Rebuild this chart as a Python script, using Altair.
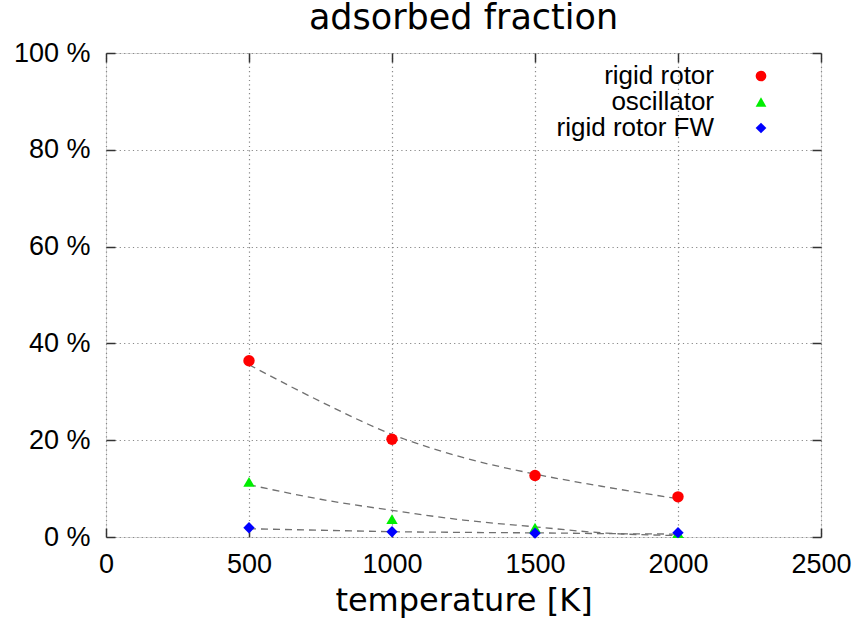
import altair as alt
import pandas as pd

# measured points (percent)
temps = [500, 1000, 1500, 2000]
rigid_rotor = [36.4, 20.2, 12.7, 8.3]
oscillator = [11.4, 3.7, 1.9, 0.8]
rigid_rotor_fw = [1.9, 1.1, 0.8, 0.9]

# dashed fit curves (percent)
fit_temps = [500, 750, 1000, 1250, 1500, 1750, 2000]
fit_rigid_rotor = [35.6, 28.0, 21.2, 16.4, 13.0, 10.3, 7.9]
fit_oscillator = [10.8, 7.8, 5.5, 3.5, 2.1, 0.8, 0.3]
fit_rigid_rotor_fw = [1.7, 1.4, 1.1, 0.95, 0.85, 0.7, 0.6]

series_names = ["rigid rotor", "oscillator", "rigid rotor FW"]
series_colors = ["#ff0000", "#00ee00", "#0000ff"]
series_shapes = ["circle", "triangle-up", "diamond"]
x_ticks = [0, 500, 1000, 1500, 2000, 2500]
y_ticks = [0, 20, 40, 60, 80, 100]

pts = pd.DataFrame({
    "T": temps * 3,
    "f": rigid_rotor + oscillator + rigid_rotor_fw,
    "series": [s for s in series_names for _ in temps],
})
fits = pd.DataFrame({
    "T": fit_temps * 3,
    "f": fit_rigid_rotor + fit_oscillator + fit_rigid_rotor_fw,
    "series": [s for s in series_names for _ in fit_temps],
})

W, H = 715, 484
LBL = "Liberation Sans"
TTL = "DejaVu Sans"

xscale = alt.Scale(domain=[0, 2500], nice=False)
yscale = alt.Scale(domain=[0, 100], nice=False)

main_x_axis = alt.Axis(values=x_ticks, format="d", title="temperature [K]", titleFont=TTL,
                       titleFontSize=32, titleFontWeight="normal", titleColor="black",
                       titleBaseline="alphabetic", titleY=73, labelFont=LBL, labelFontSize=27,
                       labelColor="black", labelBaseline="alphabetic", labelPadding=35,
                       ticks=False, tickSize=0, domain=False, grid=True, gridColor="#888888",
                       gridDash=[1.2, 3.2], gridWidth=1.2, orient="bottom", labelFlush=False)
main_y_axis = alt.Axis(values=y_ticks, title=None, labelFont=LBL, labelFontSize=27,
                       labelColor="black", labelExpr="datum.value + ' %'", labelPadding=16,
                       labelBaseline="middle", ticks=False, tickSize=0, domain=False, grid=True,
                       gridColor="#888888", gridDash=[1.2, 3.2], gridWidth=1.2, orient="left",
                       labelFlush=False)


def tick_axis(orient, vals, offset):
    # tick-only axis moved onto the opposite edge so that its ticks point into the plot
    return alt.Axis(values=vals, orient=orient, offset=offset, labels=False, title=None,
                    domain=False, grid=False, ticks=True, tickSize=9, tickWidth=1.5,
                    tickColor="#333333")


def legend():
    return alt.Legend(title=None, orient="none", legendX=642, legendY=10,
                      labelAlign="right", labelOffset={"expr": "-60"}, labelFont=LBL,
                      labelFontSize=26, labelColor="black", rowPadding=0,
                      symbolSize=115, symbolStrokeWidth=0, padding=0, labelLimit=400)


lines = alt.Chart(fits).mark_line(
    color="#707070", strokeDash=[7, 5], strokeWidth=1.3, interpolate="monotone"
).encode(
    x=alt.X("T:Q", scale=xscale, axis=main_x_axis),
    y=alt.Y("f:Q", scale=yscale, axis=main_y_axis),
    detail="series:N",
)

points = alt.Chart(pts).mark_point(filled=True, opacity=1, size=130).encode(
    x=alt.X("T:Q", scale=xscale, axis=tick_axis("top", x_ticks, -H)),
    y=alt.Y("f:Q", scale=yscale, axis=tick_axis("right", y_ticks, -W)),
    color=alt.Color("series:N", scale=alt.Scale(domain=series_names, range=series_colors),
                    legend=legend()),
    shape=alt.Shape("series:N", scale=alt.Scale(domain=series_names, range=series_shapes),
                    legend=legend()),
)

edges = alt.Chart(fits).mark_line(opacity=0).encode(
    x=alt.X("T:Q", scale=xscale, axis=tick_axis("bottom", x_ticks, -H)),
    y=alt.Y("f:Q", scale=yscale, axis=tick_axis("left", y_ticks, -W)),
    detail="series:N",
)

chart = alt.layer(lines, points, edges).resolve_axis(x="independent", y="independent").properties(
    width=W, height=H,
    autosize=alt.AutoSizeParams(type="none"),
    padding={"left": 106, "top": 53, "right": 38, "bottom": 85},
    title=alt.TitleParams("adsorbed fraction", font=TTL, fontSize=35, fontWeight="normal",
                          color="black", anchor="middle", offset=3, frame="group"),
).configure_view(stroke="#333333", strokeWidth=1.5).configure(background="white")

chart.save("out.html", embed_options={"renderer": "svg", "actions": False})
